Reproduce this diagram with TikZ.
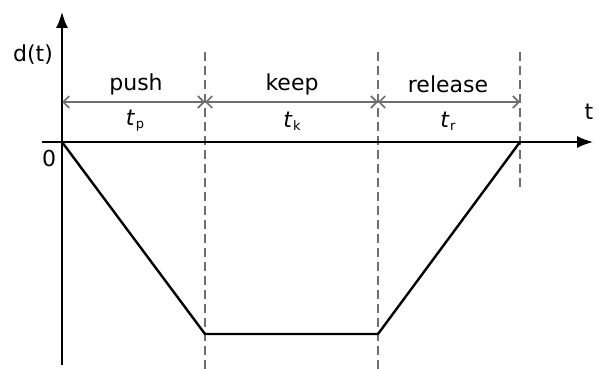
\documentclass[tikz,border=0pt]{standalone}
\usepackage{fontspec}
\setmainfont{DejaVu Sans}
\usetikzlibrary{arrows.meta}
\definecolor{dimgray}{RGB}{110,110,110}
\tikzset{
  axis/.style={line width=1.6pt,black,-{Latex[length=16pt,width=12pt]}},
  guide/.style={line width=1.6pt,dimgray,dash pattern=on 9pt off 5pt},
  dimline/.style={line width=1.7pt,dimgray,{Straight Barb[length=6pt,width=12pt]}-{Straight Barb[length=6pt,width=12pt]}},
  curve/.style={line width=2.4pt,black,line join=miter},
  lbl/.style={font=\fontsize{22}{25}\selectfont,inner sep=0pt},
}
\newcommand{\tsub}[1]{\textit{t}\kern0.5pt\raisebox{-3pt}{\fontsize{13}{14}\selectfont #1}}
\begin{document}
\begin{tikzpicture}[x=1pt,y=-1pt]
\useasboundingbox (0,0) rectangle (599,369);
\coordinate (ybot) at (62,365);
\coordinate (ytop) at (62,12);
\coordinate (xl) at (42,142);
\coordinate (xr) at (593,142);
\coordinate (O) at (62,142);
\coordinate (A) at (205,334);
\coordinate (B) at (378,334);
\coordinate (C) at (520,142);
\coordinate (d0) at (62,102);
\coordinate (d1) at (205,102);
\coordinate (d2) at (378,102);
\coordinate (d3) at (520,102);
\coordinate (g1t) at (205,52);
\coordinate (g1b) at (205,369);
\coordinate (g2t) at (378,52);
\coordinate (g2b) at (378,369);
\coordinate (g3t) at (520,52);
\coordinate (g3b) at (520,189);
% guides
\draw[guide] (g1t) -- (g1b);
\draw[guide] (g2t) -- (g2b);
\draw[guide] (g3t) -- (g3b);
% axes
\draw[axis] (ybot) -- (ytop);
\draw[axis] (xl) -- (xr);
% dimension lines
\draw[dimline] (d0) -- (d1);
\draw[dimline] (d1) -- (d2);
\draw[dimline] (d2) -- (d3);
% profile
\draw[curve] (O) -- (A) -- (B) -- (C);
% labels
\node[lbl] (dt) at (33,55) {d(t)};
\node[lbl] (t) at (589,112) {t};
\node[lbl] (zero) at (49,158) {0};
\node[lbl] (push) at (136,84) {push};
\node[lbl] (keep) at (292,84) {keep};
\node[lbl] (release) at (448,84) {release};
\node[lbl] (tp) at (135,121) {\tsub{p}};
\node[lbl] (tk) at (292,121) {\tsub{k}};
\node[lbl] (tr) at (448,121) {\tsub{r}};
\end{tikzpicture}
\end{document}
